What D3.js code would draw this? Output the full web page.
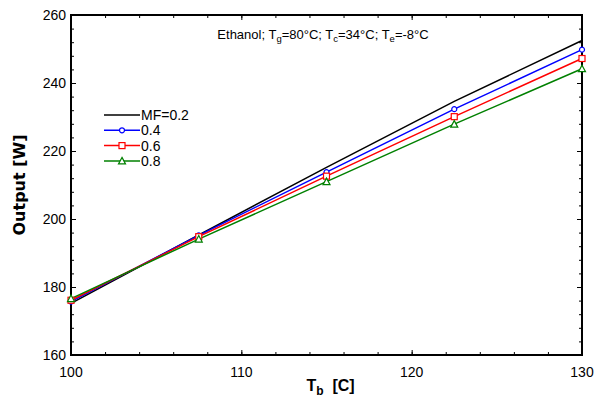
<!DOCTYPE html>
<html>
<head>
<meta charset="utf-8">
<script src="https://cdn.jsdelivr.net/npm/d3@7"></script>
<style>
  body { margin: 0; background: #fff; }
  text { font-family: Arial, "Liberation Sans", sans-serif; fill: #000; }
</style>
</head>
<body>
<div id="chart"></div>
<script>
const margin = {top: 15, right: 22, bottom: 45, left: 71},
      width = 604 - margin.left - margin.right,
      height = 400 - margin.top - margin.bottom;

// Tb values at which markers are plotted
const tb = [100, 107.5, 115, 122.5, 130];
const mf02 = [175.2, 195.3, 215.2, 234.6, 252.5];
const mf04 = [175.7, 195.2, 213.8, 232.3, 249.8];
const mf06 = [176.1, 194.8, 212.6, 230.1, 247.2];
const mf08 = [176.6, 194.1, 211.0, 227.9, 244.2];
const seriesNames = ["MF=0.2", "0.4", "0.6", "0.8"];
const xTicks = [100, 110, 120, 130];
const yTicks = [160, 180, 200, 220, 240, 260];

const series = [
  {name: seriesNames[0], values: mf02, color: "#000000", marker: null},
  {name: seriesNames[1], values: mf04, color: "#0000ff", marker: "circle"},
  {name: seriesNames[2], values: mf06, color: "#ff0000", marker: "square"},
  {name: seriesNames[3], values: mf08, color: "#008000", marker: "triangle"}
];

const svg = d3.select("#chart")
  .append("svg")
  .attr("width", 604)
  .attr("height", 400)
  .append("g")
  .attr("transform", `translate(${margin.left},${margin.top})`);

const x = d3.scaleLinear().domain([100, 130]).range([0, width]);
const y = d3.scaleLinear().domain([160, 260]).range([height, 0]);

// minor + major ticks, inward, on all four sides
function tickAxis(axisFn, scale, major, minor, transform, len) {
  svg.append("g").attr("transform", transform)
    .call(axisFn(scale).tickValues(minor).tickSize(len * 0.6).tickFormat(""))
    .call(g => g.select(".domain").remove());
  svg.append("g").attr("transform", transform)
    .call(axisFn(scale).tickValues(major).tickSize(len).tickFormat(""))
    .call(g => g.select(".domain").remove());
}
const xMinor = d3.range(102, 130, 2);
const yMinor = d3.range(164, 260, 4);
tickAxis(d3.axisTop, x, xTicks, xMinor, `translate(0,${height})`, 5);
tickAxis(d3.axisBottom, x, xTicks, xMinor, `translate(0,0)`, 5);
tickAxis(d3.axisRight, y, yTicks, yMinor, `translate(0,0)`, 5);
tickAxis(d3.axisLeft, y, yTicks, yMinor, `translate(${width},0)`, 5);
svg.selectAll(".tick line").attr("stroke", "#000").attr("stroke-width", 1);

// tick labels
svg.append("g")
  .selectAll("text")
  .data(xTicks)
  .join("text")
  .attr("x", d => x(d))
  .attr("y", height + 22)
  .attr("text-anchor", "middle")
  .attr("font-size", 14)
  .text(d => d);

svg.append("g")
  .selectAll("text")
  .data(yTicks)
  .join("text")
  .attr("x", -5)
  .attr("y", d => y(d) + 5)
  .attr("text-anchor", "end")
  .attr("font-size", 14)
  .text(d => d);

// frame
svg.append("rect")
  .attr("width", width)
  .attr("height", height)
  .attr("fill", "none")
  .attr("stroke", "#000")
  .attr("stroke-width", 2);

// lines
const line = d3.line()
  .x((d, i) => x(tb[i]))
  .y(d => y(d));

svg.selectAll("path.series")
  .data(series)
  .join("path")
  .attr("class", "series")
  .attr("d", d => line(d.values))
  .attr("fill", "none")
  .attr("stroke", d => d.color)
  .attr("stroke-width", 1.5);

function drawMarker(g, type, color) {
  if (type === "circle") {
    g.append("circle").attr("r", 2.5);
  } else if (type === "square") {
    g.append("rect").attr("x", -3).attr("y", -3).attr("width", 6).attr("height", 6);
  } else if (type === "triangle") {
    g.append("path").attr("d", "M0,-3.5L3.5,3L-3.5,3Z");
  }
  g.selectAll("*").attr("fill", "#fff").attr("stroke", color).attr("stroke-width", 1.2);
}

series.filter(s => s.marker).forEach(s => {
  s.values.forEach((v, i) => {
    const g = svg.append("g").attr("transform", `translate(${x(tb[i])},${y(v)})`);
    drawMarker(g, s.marker, s.color);
  });
});

// legend
const legend = svg.append("g").attr("transform", "translate(33,100)");
series.forEach((s, i) => {
  const row = legend.append("g").attr("transform", `translate(0,${i * 15.3})`);
  row.append("line")
    .attr("x1", 0).attr("x2", 36)
    .attr("stroke", s.color)
    .attr("stroke-width", 1.5);
  if (s.marker) {
    const m = row.append("g").attr("transform", "translate(18,0)");
    drawMarker(m, s.marker, s.color);
  }
  row.append("text")
    .attr("x", 37)
    .attr("y", 5)
    .attr("font-size", 14)
    .text(s.name);
});

// title
const title = svg.append("text")
  .attr("x", 252)
  .attr("y", 24)
  .attr("text-anchor", "middle")
  .attr("font-size", 13);
title.append("tspan").text("Ethanol; T");
title.append("tspan").attr("font-size", 9.5).attr("dy", 3).text("g");
title.append("tspan").attr("dy", -3).text("=80\u00B0C; T");
title.append("tspan").attr("font-size", 9.5).attr("dy", 3).text("c");
title.append("tspan").attr("dy", -3).text("=34\u00B0C; T");
title.append("tspan").attr("font-size", 9.5).attr("dy", 3).text("e");
title.append("tspan").attr("dy", -3).text("=-8\u00B0C");

// axis labels
const xl = svg.append("text")
  .attr("x", width / 2 + 4)
  .attr("y", height + 36)
  .attr("text-anchor", "middle")
  .attr("font-size", 16)
  .attr("font-weight", "bold");
xl.append("tspan").text("T");
xl.append("tspan").attr("font-size", 12).attr("dy", 4).text("b");
xl.append("tspan").attr("dy", -4).text("\u00A0\u00A0[C]");

svg.append("text")
  .attr("transform", `translate(-46,${height / 2}) rotate(-90)`)
  .attr("text-anchor", "middle")
  .attr("font-size", 16)
  .attr("font-weight", "bold")
  .style("font-family", "'DejaVu Sans', sans-serif")
  .text("Output [W]");
</script>
</body>
</html>
